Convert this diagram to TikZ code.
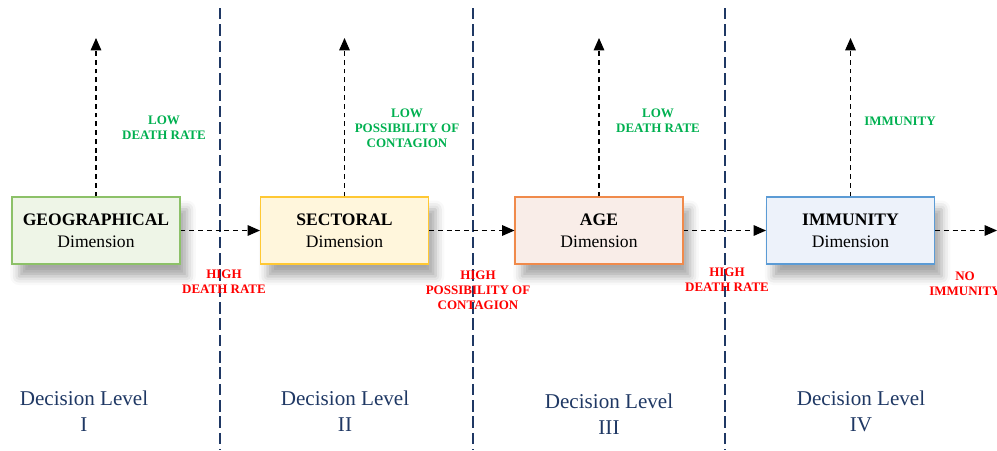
\documentclass[tikz,border=0pt]{standalone}
\usepackage{fontspec}
\setmainfont{Liberation Serif}
\usetikzlibrary{arrows.meta,shadows.blur,positioning}

\definecolor{levelblue}{HTML}{1F3864}
\definecolor{lowgreen}{HTML}{00B050}
\definecolor{highred}{HTML}{FF0000}
\definecolor{geoline}{HTML}{8CC168}
\definecolor{geofill}{HTML}{EEF5E7}
\definecolor{secline}{HTML}{FFC833}
\definecolor{secfill}{HTML}{FFF6DC}
\definecolor{ageline}{HTML}{F08A4B}
\definecolor{agefill}{HTML}{F9EDE8}
\definecolor{immline}{HTML}{5B9BD5}
\definecolor{immfill}{HTML}{EDF2FA}

\begin{document}
\begin{tikzpicture}[x=0.02cm,y=-0.02cm,
  dimbox/.style={draw,line width=0.6pt,minimum width=3.36cm,minimum height=1.34cm,align=center,
    font=\fontsize{10}{12.5}\selectfont,
    blur shadow={shadow xshift=4pt,shadow yshift=-7pt,shadow blur radius=5pt,shadow opacity=35}},
  flow/.style={line width=0.6pt,dash pattern=on 2.8pt off 2.2pt,-{Triangle[length=7pt,width=6pt]}},
  divider/.style={levelblue,line width=0.9pt,dash pattern=on 6.5pt off 2.8pt},
  lowlbl/.style={text=lowgreen,font=\bfseries\fontsize{7.4}{8.4}\selectfont,align=center},
  highlbl/.style={text=highred,font=\bfseries\fontsize{7.4}{8.4}\selectfont,align=center},
  levellbl/.style={text=levelblue,font=\fontsize{12}{14.8}\selectfont,align=center}]
\useasboundingbox (0,0) rectangle (997,450);

% level borders
\foreach \x in {220,473,725}
  \draw[divider] (\x,8) -- (\x,450);

% dimensions
\node[dimbox,draw=geoline,fill=geofill] (geo) at (96,230.5) {\textbf{GEOGRAPHICAL}\\Dimension};
\node[dimbox,draw=secline,fill=secfill] (sec) at (344.5,230.5) {\textbf{SECTORAL}\\Dimension};
\node[dimbox,draw=ageline,fill=agefill] (age) at (599,230.5) {\textbf{AGE}\\Dimension};
\node[dimbox,draw=immline,fill=immfill] (imm) at (850.5,230.5) {\textbf{IMMUNITY}\\Dimension};

\coordinate (geotop) at (96,38);
\coordinate (sectop) at (344.5,38);
\coordinate (agetop) at (599,38);
\coordinate (immtop) at (850.5,38);
\coordinate (exit) at (997,230.5);

\draw[flow] (geo.north) -- (geotop);
\draw[flow] (sec.north) -- (sectop);
\draw[flow] (age.north) -- (agetop);
\draw[flow] (imm.north) -- (immtop);

\draw[flow] (geo.east) -- (sec.west);
\draw[flow] (sec.east) -- (age.west);
\draw[flow] (age.east) -- (imm.west);
\draw[flow] (imm.east) -- (exit);

% outcomes
\node[lowlbl] (geolow) at (164,128) {LOW\\DEATH RATE};
\node[lowlbl] (seclow) at (407,128) {LOW\\POSSIBILITY OF\\CONTAGION};
\node[lowlbl] (agelow) at (658,121) {LOW\\DEATH RATE};
\node[lowlbl] (immlow) at (900,121) {IMMUNITY};

\node[highlbl] (geohigh) at (224,281.5) {HIGH\\DEATH RATE};
\node[highlbl] (sechigh) at (478,290) {HIGH\\POSSIBILITY OF\\CONTAGION};
\node[highlbl] (agehigh) at (727,280) {HIGH\\DEATH RATE};
\node[highlbl] (immhigh) at (965,283.5) {NO\\IMMUNITY};

% decision levels
\node[levellbl] (lvlone) at (84,411) {Decision Level\\I};
\node[levellbl] (lvltwo) at (345,411) {Decision Level\\II};
\node[levellbl] (lvlthree) at (609,414) {Decision Level\\III};
\node[levellbl] (lvlfour) at (861,411) {Decision Level\\IV};
\end{tikzpicture}
\end{document}
